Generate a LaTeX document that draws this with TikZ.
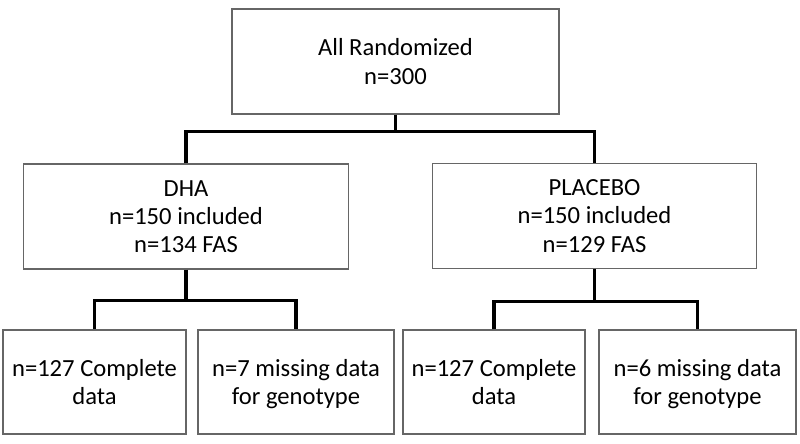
\documentclass[tikz,border=0pt]{standalone}
\usepackage{fontspec}
\setmainfont{Carlito}
\usepackage{tikz}
\usetikzlibrary{positioning}

\begin{document}
\begin{tikzpicture}[
  x=0.03cm,
  y=-0.03cm,
  box/.style={
    rectangle,
    draw=black!60,
    line width=0.9pt,
    align=center,
    inner sep=0pt,
    font=\fontsize{21}{24}\selectfont,
    text depth=-7pt,
    minimum height=3.15cm
  },
  randbox/.style={box, minimum width=9.81cm},
  armbox/.style={box, minimum width=9.74cm},
  leafbox/.style={box, minimum height=3.12cm},
  link/.style={line width=2.6pt, black}
]

\useasboundingbox (0,0) rectangle (800,444);

\node[randbox] (rand) at (395.5,61.5) {All Randomized\\n=300};

\node[armbox] (dha) at (186,216.5)
{DHA\\n=150 included\\n=134 FAS};

\node[armbox] (placebo) at (594.5,216)
{PLACEBO\\n=150 included\\n=129 FAS};

\node[leafbox, minimum width=5.49cm] (dhacomp) at (94.5,382)
{n=127 Complete\\data};

\node[leafbox, minimum width=5.88cm] (dhamiss) at (296,382)
{n=7 missing data\\for genotype};

\node[leafbox, minimum width=5.46cm] (placomp) at (494,382)
{n=127 Complete\\data};

\node[leafbox, minimum width=5.91cm] (plamiss) at (697.5,382)
{n=6 missing data\\for genotype};

\draw[link] (rand.south) -- ++(0,17) coordinate (randsplit);
\draw[link] (dha.north) |- (randsplit) -| (placebo.north);
\draw[link] (dha.south) -- ++(0,31) coordinate (dhasplit);
\draw[link] (dhacomp.north) |- (dhasplit) -| (dhamiss.north);
\draw[link] (placebo.south) -- ++(0,32) coordinate (plasplit);
\draw[link] (placomp.north) |- (plasplit) -| (plamiss.north);

\end{tikzpicture}
\end{document}
